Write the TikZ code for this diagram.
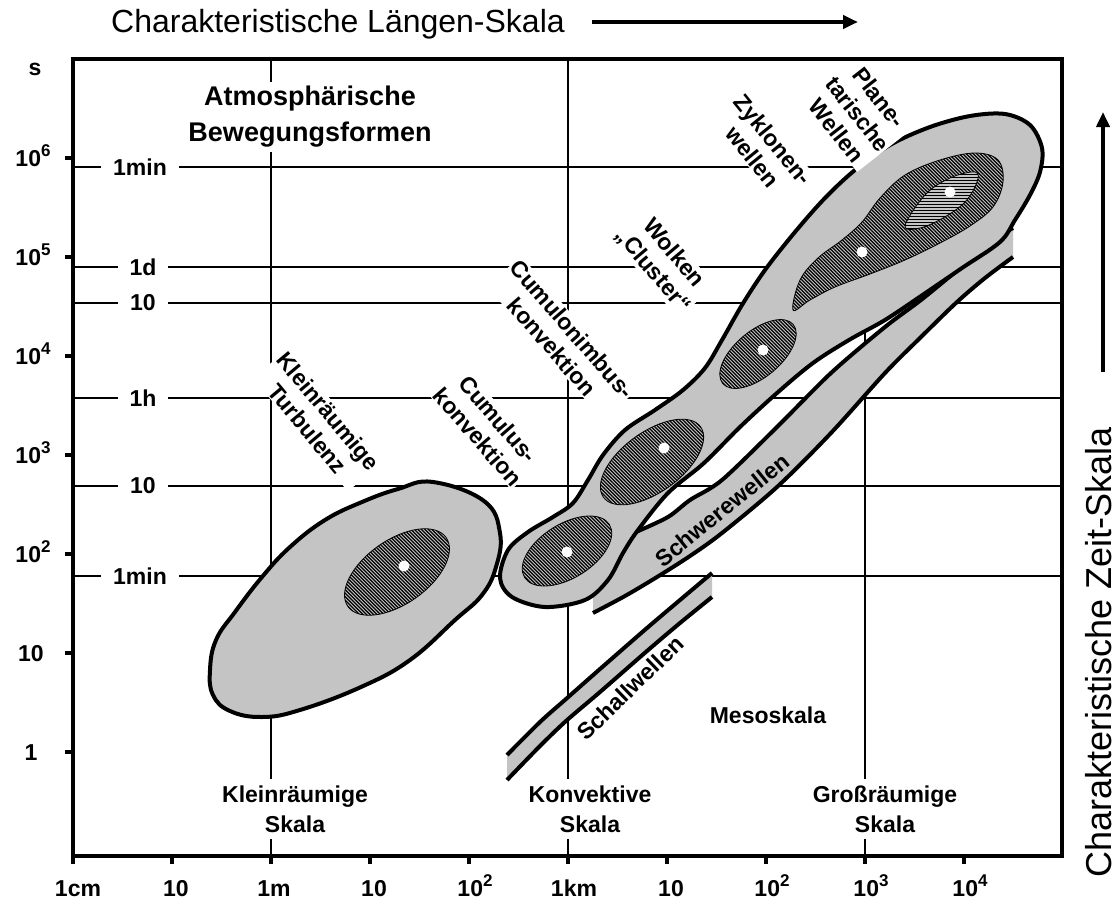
\documentclass[tikz,border=0pt]{standalone}
\usepackage{fontspec}
\setmainfont{Liberation Sans}
\usetikzlibrary{arrows.meta,patterns}
\definecolor{stipc}{gray}{0.77}
\pgfdeclarepatternformonly{dhatch}{\pgfqpoint{-1pt}{-1pt}}{\pgfqpoint{4.5pt}{4.5pt}}{\pgfqpoint{3.5pt}{3.5pt}}{%
  \pgfsetlinewidth{1.3pt}\pgfpathmoveto{\pgfqpoint{0pt}{3.5pt}}\pgfpathlineto{\pgfqpoint{3.6pt}{-0.1pt}}\pgfusepath{stroke}}
\pgfdeclarepatternformonly{hlinesp}{\pgfqpoint{-1pt}{0pt}}{\pgfqpoint{4pt}{3pt}}{\pgfqpoint{3pt}{3pt}}{%
  \pgfsetlinewidth{1.3pt}\pgfpathmoveto{\pgfqpoint{-1pt}{1.5pt}}\pgfpathlineto{\pgfqpoint{4pt}{1.5pt}}\pgfusepath{stroke}}
\newcommand{\sps}[1]{\raisebox{0.42em}{\fontsize{17}{17}\selectfont #1}}
\begin{document}
\begin{tikzpicture}[x=1pt,y=-1pt,
  gridl/.style={line width=2pt},
  framel/.style={line width=4.5pt},
  outl/.style={line width=4pt, line join=round},
  lbl/.style={font=\fontsize{23}{27}\selectfont\bfseries, align=center, inner sep=1pt, fill=white},
  sklbl/.style={font=\fontsize{23}{30}\selectfont\bfseries, align=center, inner sep=7pt, fill=white},
  tlbl/.style={font=\fontsize{23}{27}\selectfont\bfseries, fill=white, inner xsep=12pt, inner ysep=1pt},
  axl/.style={font=\fontsize{23}{27}\selectfont\bfseries, anchor=base},
  hatchl/.style={pattern=dhatch, line width=0.8pt},
  dotc/.style={fill=white},
  bigarrow/.style={line width=4pt, -{Triangle[length=15pt,width=13pt]}},
  ttl/.style={font=\fontsize{32}{36}\selectfont}]
\useasboundingbox (0,0) rectangle (1119,899);
\fill[white] (0,0) rectangle (1119,899);

% grid lines
\foreach \y in {167,267,303,398,486,576} \draw[gridl] (73,\y) -- (1062,\y);
\draw[gridl] (271,59) -- (271,856);
\draw[gridl] (568,59) -- (568,856);
\draw[gridl] (865,160) -- (865,856);

% left time labels
\node[tlbl] (tm1) at (140,167) {1min};
\node[tlbl] (td) at (143,267) {1d};
\node[tlbl] (th10) at (143,303) {10};
\node[tlbl] (th) at (143,398) {1h};
\node[tlbl] (tmin10) at (143,486) {10};
\node[tlbl] (tm2) at (140,576) {1min};

% bottom scale labels
\node[sklbl] (sk1) at (295,809) {Kleinräumige\\Skala};
\node[sklbl] (sk2) at (590,809) {Konvektive\\Skala};
\node[sklbl] (sk3) at (885,809) {Großräumige\\Skala};

% title
\node[font=\fontsize{27}{36}\selectfont\bfseries, align=center, fill=white, inner sep=4pt] (title) at (310,117) {Atmosphärische\\Bewegungsformen};

% rotated labels
\node[lbl, rotate=-50] (turb) at (318,420) {Kleinräumige\\Turbulenz};
\node[lbl, rotate=-49] (cumu) at (488,428) {Cumulus-\\konvektion};
\node[lbl, rotate=-49] (cunb) at (562,338) {Cumulonimbus-\\konvektion};
\node[lbl, rotate=-50] (clus) at (663,262) {Wolken\\„Cluster“};
\node[lbl, rotate=-51] (zykl) at (763,148) {Zyklonen-\\wellen};

% Schwerewellen band
\fill[stipc] plot[smooth] coordinates {(593,613) (625,596) (657,577) (690,556) (722,533) (777,487) (831,433) (885,373) (921,337) (957,302) (985,278) (1013,257)}
  -- plot[smooth] coordinates {(1013,228) (990,242) (960,268) (921,300) (885,327) (831,373) (777,427) (722,480) (690,500) (668,517) (636,532) (612,556) (593,577)} -- cycle;
\draw[outl] plot[smooth] coordinates {(593,613) (625,596) (657,577) (690,556) (722,533) (777,487) (831,433) (885,373) (921,337) (957,302) (985,278) (1013,257)};
\draw[outl] plot[smooth] coordinates {(1013,228) (990,242) (960,268) (921,300) (885,327) (831,373) (777,427) (722,480) (690,500) (668,517) (636,532)};

% big convective / synoptic blob
\filldraw[outl, fill=stipc] plot[smooth cycle, tension=0.55] coordinates {
  (500,578) (508,550) (528,532) (553,517) (573,503) (588,480) (603,455) (625,430) (655,410) (683,390) (705,368) (722,340) (742,305) (765,270) (795,232) (825,198) (855,170) (890,145) (930,127) (970,116) (1005,114) (1030,125) (1042,148) (1040,172) (1030,195) (1015,220) (1000,242) (962,268) (921,296) (885,320) (849,340) (813,363) (777,393) (740,427) (704,463) (668,493) (638,530) (623,553) (608,580) (585,600) (545,607) (512,597)};

% planetary label (on top of blob edge)
\node[lbl, rotate=-52] (plan) at (858,114) {Plane-\\tarische\\Wellen};

% Schallwellen band
\fill[stipc] plot[smooth] coordinates {(507,755) (540,722) (566,699) (600,669) (647,628) (680,600) (712,573)}
  -- plot[smooth] coordinates {(712,597) (680,623) (647,651) (600,692) (566,721) (540,746) (507,780)} -- cycle;
\draw[outl] plot[smooth] coordinates {(507,755) (540,722) (566,699) (600,669) (647,628) (680,600) (712,573)};
\draw[outl] plot[smooth] coordinates {(507,780) (540,746) (566,721) (600,692) (647,651) (680,623) (712,597)};

% left turbulence blob
\filldraw[outl, fill=stipc] plot[smooth cycle, tension=0.7] coordinates {(433,482) (484,501) (500,533) (496,567) (482,595) (455,620) (410,660) (361,687) (300,710) (262,717) (230,711) (213,695) (210,670) (216,640) (235,612) (262,577) (290,547) (325,520) (362,502) (398,489)};

% hatched cores
\draw[hatchl, rotate around={35:(397,572)}] (397,572) ellipse [x radius=60, y radius=32];
\draw[hatchl, rotate around={32:(567,551)}] (567,551) ellipse [x radius=50, y radius=27];
\draw[hatchl, rotate around={36:(652,462)}] (652,462) ellipse [x radius=60, y radius=30];
\draw[hatchl, rotate around={40:(758,354)}] (758,354) ellipse [x radius=46, y radius=23];
\draw[hatchl] plot[smooth cycle, tension=0.6] coordinates {(793,310) (800,280) (818,258) (842,240) (862,222) (880,198) (905,175) (940,160) (975,153) (998,160) (1003,182) (993,207) (970,226) (940,243) (905,260) (870,274) (835,287) (810,300)};
\fill[stipc] plot[smooth cycle, tension=0.6] coordinates {(905,226) (925,195) (950,178) (975,172) (977,182) (965,202) (943,218) (920,228)};
\draw[pattern=hlinesp, line width=0.8pt] plot[smooth cycle, tension=0.6] coordinates {(905,226) (925,195) (950,178) (975,172) (977,182) (965,202) (943,218) (920,228)};

% centre dots
\foreach \p in {(404,566),(567,552),(664,448),(763,350),(862,252),(950,192)} \fill[dotc] \p circle (5.5);

% band labels
\node[lbl, fill=none, rotate=39] (schw) at (722,510) {Schwerewellen};
\node[lbl, rotate=44] (schall) at (630,688) {Schallwellen};
\node[lbl] (meso) at (768,715) {Mesoskala};

% frame and ticks
\draw[framel] (73,59) rectangle (1062,856);
\foreach \y in {158,257,356,455,554,653,752} \draw[line width=4pt] (65,\y) -- (73,\y);
\foreach \i in {0,...,9} \draw[line width=4pt] ({73+99*\i},856) -- ({73+99*\i},864);

% axis labels
\node[axl] (ys) at (35,76) {s};
\node[axl] (y6) at (33,166) {10\sps{6}};
\node[axl] (y5) at (33,265) {10\sps{5}};
\node[axl] (y4) at (33,364) {10\sps{4}};
\node[axl] (y3) at (33,463) {10\sps{3}};
\node[axl] (y2) at (33,562) {10\sps{2}};
\node[axl] (y1) at (31,661) {10};
\node[axl] (y0) at (31,760) {1};
\node[axl] (x0) at (78,896) {1cm};
\node[axl] (x1) at (176,896) {10};
\node[axl] (x2) at (274,896) {1m};
\node[axl] (x3) at (374,896) {10};
\node[axl] (x4) at (475,896) {10\sps{2}};
\node[axl] (x5) at (574,896) {1km};
\node[axl] (x6) at (671,896) {10};
\node[axl] (x7) at (772,896) {10\sps{2}};
\node[axl] (x8) at (871,896) {10\sps{3}};
\node[axl] (x9) at (970,896) {10\sps{4}};

% axis titles with arrows
\node[ttl] (ltitle) at (338,24) {Charakteristische Längen-Skala};
\coordinate (la1) at (592,22);
\coordinate (la2) at (858,22);
\draw[bigarrow] (la1) -- (la2);
\node[font=\fontsize{36}{40}\selectfont, rotate=90, inner sep=0pt] (ztitle) at (1099,652) {Charakteristische Zeit-Skala};
\coordinate (za1) at (1103,372);
\coordinate (za2) at (1103,112);
\draw[bigarrow] (za1) -- (za2);
\end{tikzpicture}
\end{document}
